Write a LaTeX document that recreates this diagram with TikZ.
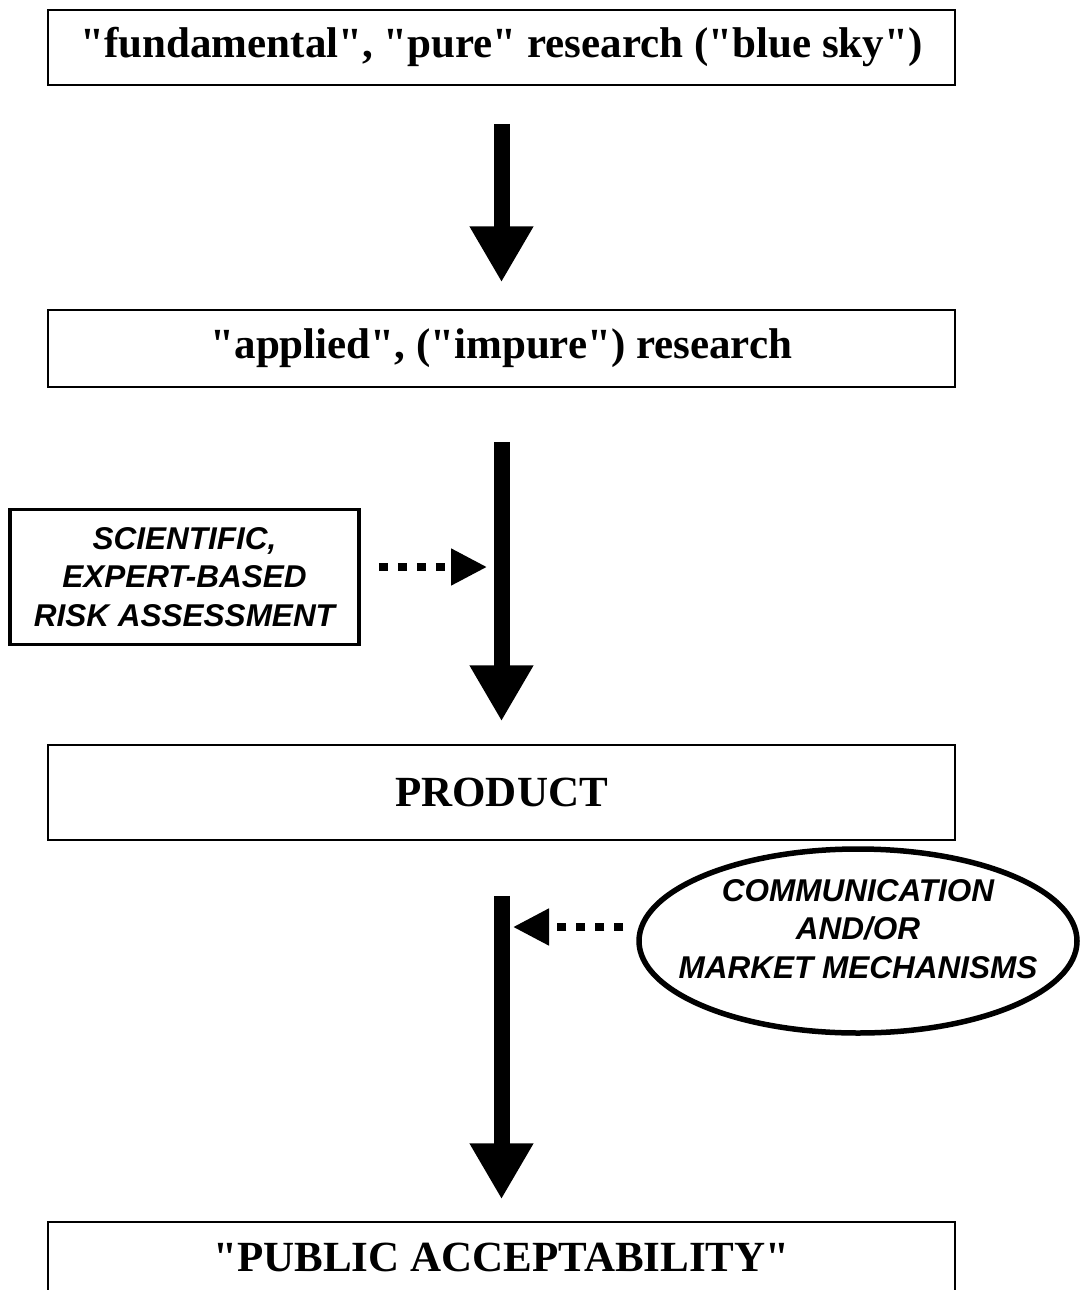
\documentclass[tikz,border=0pt]{standalone}
\usepackage{fontspec}
\newfontfamily\tnr{Liberation Serif}
\newfontfamily\arialbi{Liberation Sans}
\usetikzlibrary{arrows.meta,shapes.geometric}
\begin{document}
\begin{tikzpicture}[x=1pt,y=-1pt,
  box/.style={draw, line width=1.5pt, minimum width=907pt, inner sep=0pt,
    font=\fontsize{43}{47}\selectfont\tnr\bfseries},
  bigarrow/.style={line width=16pt, -{Triangle[width=60pt,length=56pt]}},
  dotarrow/.style={line width=8pt, dash pattern=on 9pt off 10pt,
    -{Triangle[width=35pt,length=36pt]}},
  side/.style={align=center, inner sep=0pt,
    font=\fontsize{31.5}{38.5}\selectfont\arialbi\bfseries\itshape}]
\useasboundingbox (0,0) rectangle (1082,1290);

\node[box, minimum height=75pt] (b1) at (501.5,47.5) {"fundamental", "pure" research ("blue sky")};
\node[box, minimum height=77pt] (b2) at (501.5,348.5) {"applied", ("impure") research};
\node[box, minimum height=95pt] (b3) at (501.5,792.5) {PRODUCT};
\node[box, minimum height=70pt] (b4) at (501.5,1257) {"PUBLIC ACCEPTABILITY"};

\node[draw, line width=3.5pt, minimum width=349pt, minimum height=135pt, side] (sci) at (184.5,577) {SCIENTIFIC,\\EXPERT-BASED\\RISK ASSESSMENT};

\node[ellipse, draw, line width=5.5pt, minimum width=438pt, minimum height=184pt, inner sep=0pt] (ell) at (858,941) {};
\node[side] (elltext) at ([yshift=12pt]ell.center) {COMMUNICATION\\AND/OR\\MARKET MECHANISMS};

\draw[bigarrow] ([yshift=-38pt]b1.south) -- ([yshift=27pt]b2.north);
\draw[bigarrow] ([yshift=-54pt]b2.south) -- ([yshift=23pt]b3.north);
\draw[bigarrow] ([yshift=-55pt]b3.south) -- ([yshift=22pt]b4.north);

\coordinate (t1) at (487,567);
\coordinate (t2) at (513,927);
\draw[dotarrow] ([xshift=18pt,yshift=10pt]sci.east) -- (t1);
\draw[dotarrow] ([xshift=-13pt,yshift=14pt]ell.west) -- (t2);
\end{tikzpicture}
\end{document}
